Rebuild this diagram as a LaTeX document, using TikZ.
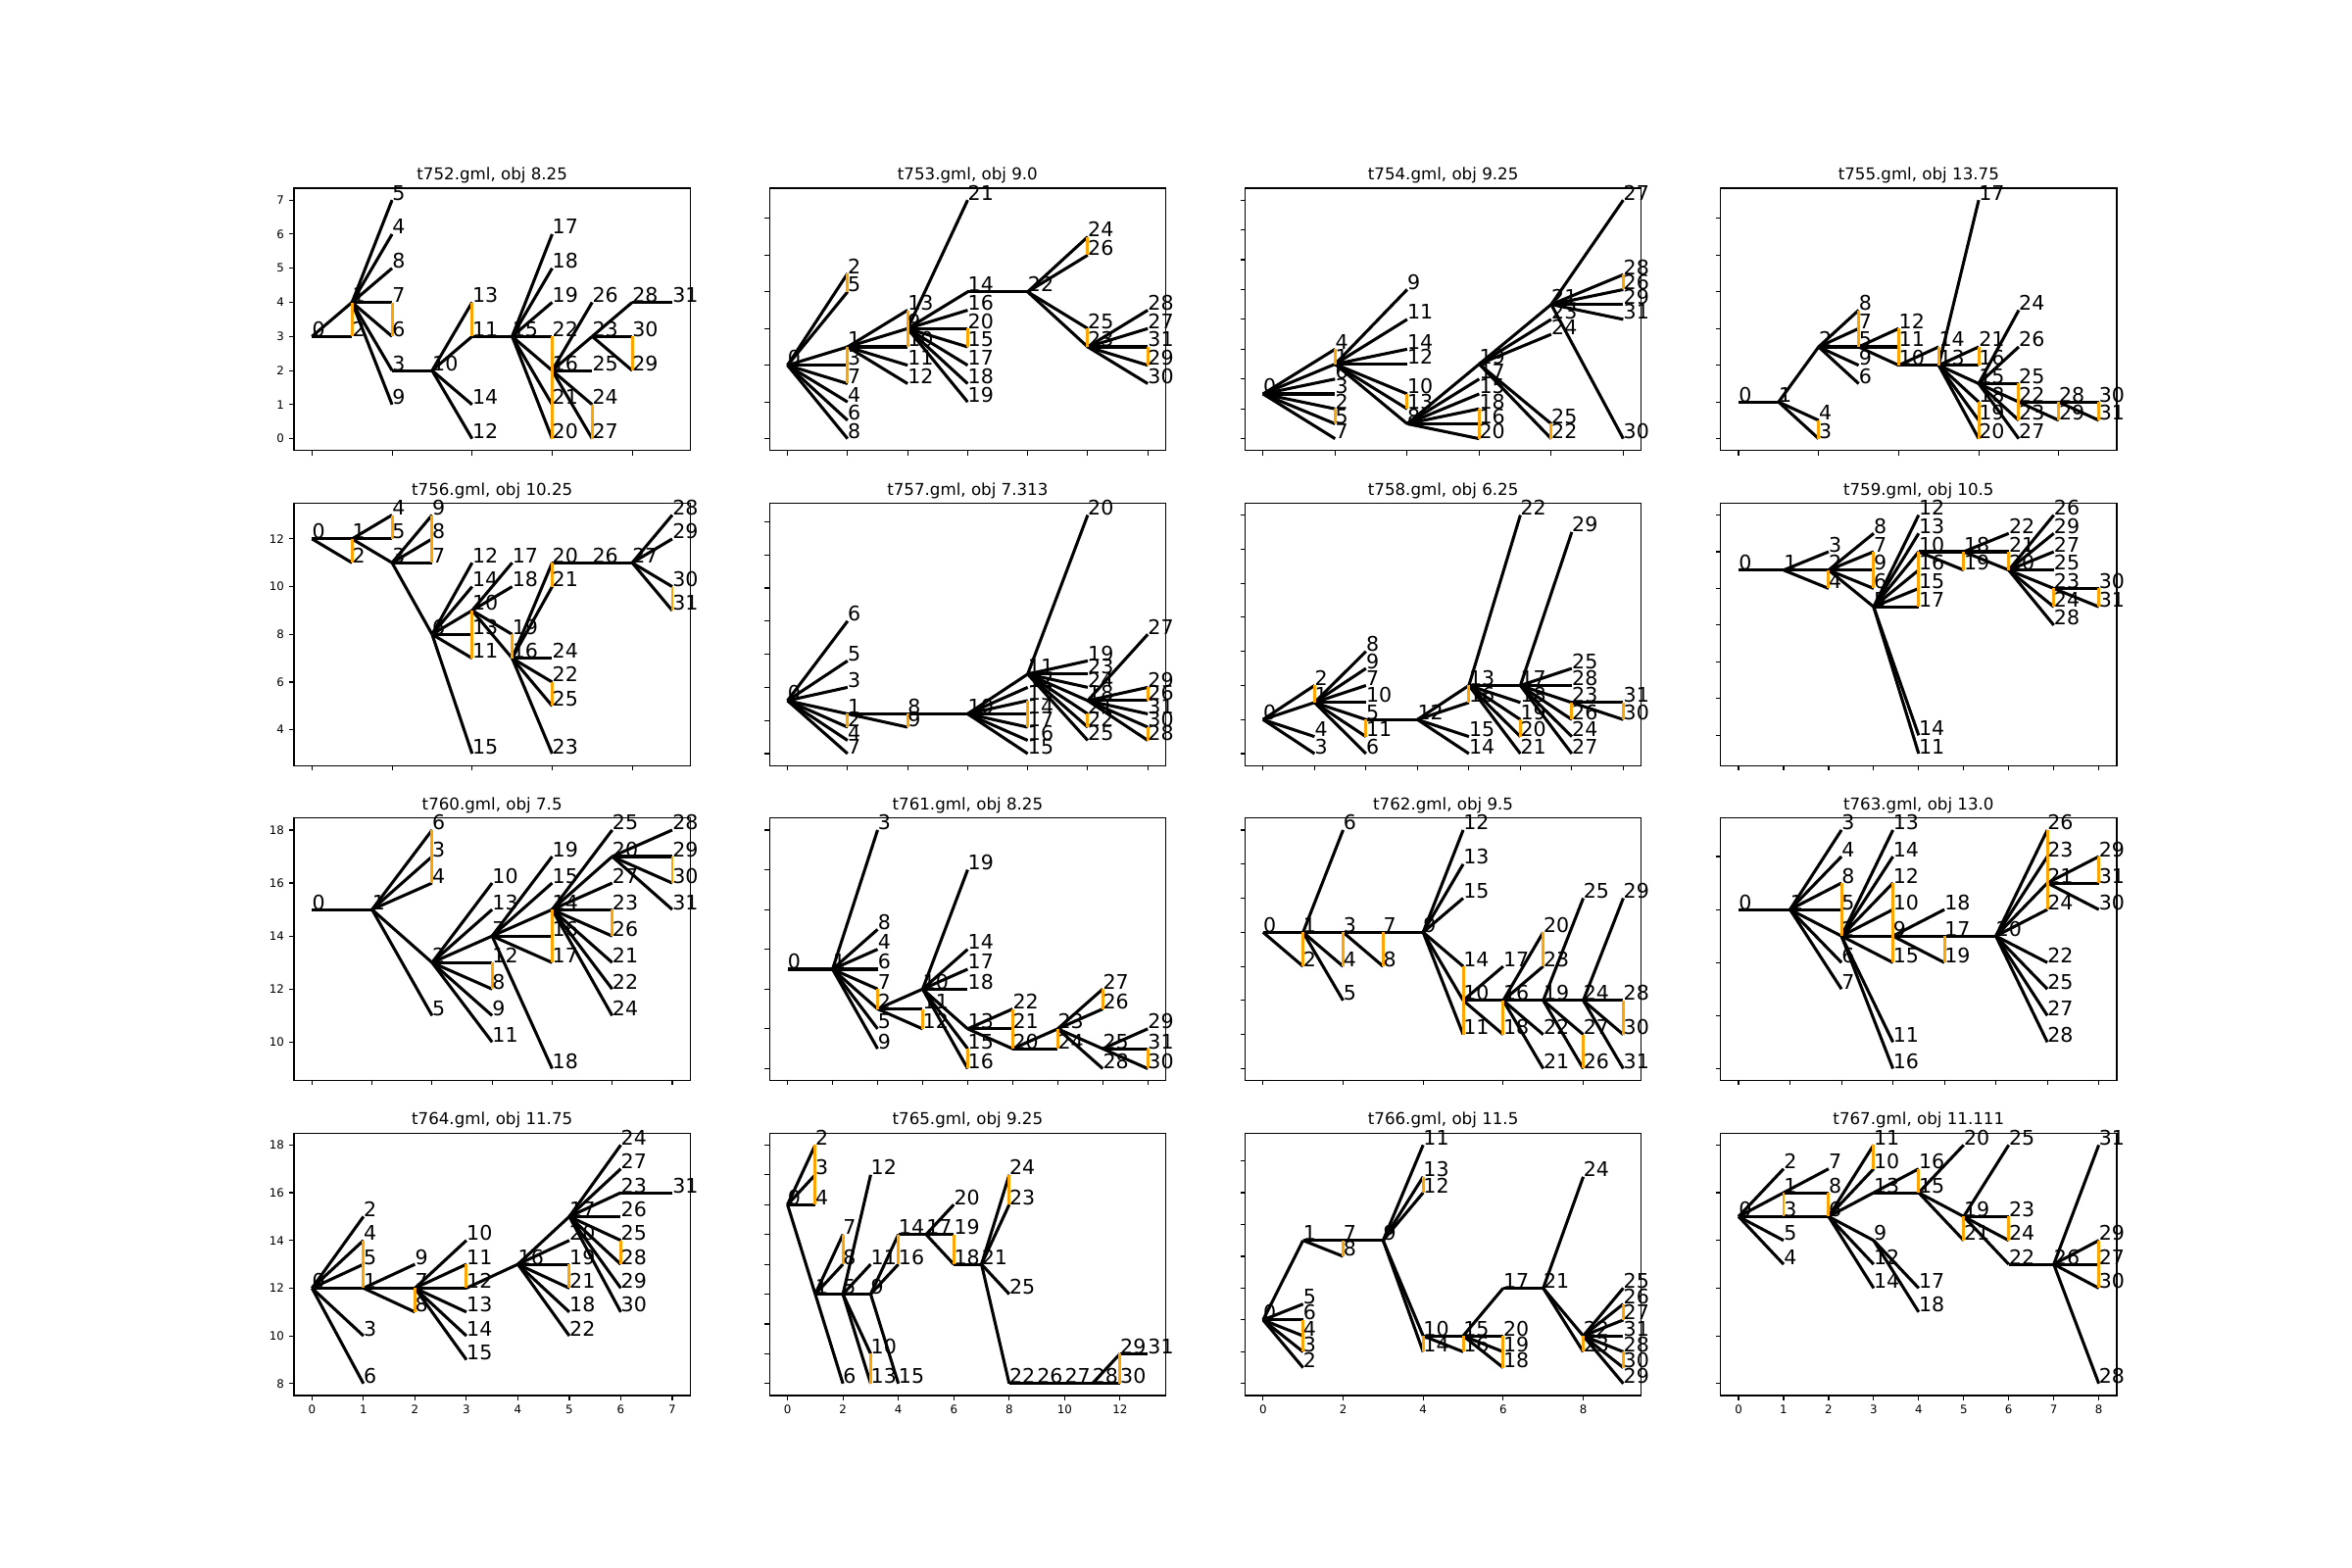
\documentclass[tikz,border=0pt]{standalone}
\usepackage{fontspec}
\setmainfont{DejaVu Sans}
\usetikzlibrary{positioning}
\definecolor{mplorange}{HTML}{FFA500}
\tikzset{
  tree edge/.style={line width=2.2pt,black},
  sib bar/.style={line width=2.1pt,mplorange},
  node label/.style={anchor=base west,inner sep=0pt,font=\fontsize{14.8}{17}\selectfont},
  panel frame/.style={line width=0.8pt,black},
  panel title/.style={anchor=base,inner sep=0pt,font=\fontsize{12}{14}\selectfont},
  tick mark/.style={line width=0.8pt,black},
  tick label/.style={inner sep=0pt,font=\fontsize{8.5}{10}\selectfont}
}
% panel geometry: col, row, x0, x1, y0, y1 (data range, 5% margins)
\newcommand{\setpanel}[6]{%
  \pgfmathsetmacro{\pL}{300+#1*485.217}%
  \pgfmathsetmacro{\pB}{1140.174-#2*321.391}%
  \pgfmathsetmacro{\psx}{404.348/(1.1*(#4-(#3)))}%
  \pgfmathsetmacro{\psy}{267.826/(1.1*(#6-(#5)))}%
  \pgfmathsetmacro{\pox}{\pL+18.379-(#3)*\psx}%
  \pgfmathsetmacro{\poy}{\pB+12.174-(#5)*\psy}%
}
\newcommand{\panelbox}[1]{%
  \draw[panel frame] (\pL,\pB) rectangle ++(404.348,267.826);
  \node[panel title] (title) at ({\pL+202.174},{\pB+276.16}) {#1};
}
\newcommand{\panelxticks}[2]{%
  \foreach \t in {#1} {%
    \draw[tick mark] ({\pox+\t*\psx},\pB) -- ++(0,-4.861);
    \ifnum#2=1 \node[tick label,anchor=north] at ({\pox+\t*\psx},{\pB-9.722}) {\t};\fi
  }%
}
\newcommand{\panelyticks}[2]{%
  \foreach \t in {#1} {%
    \draw[tick mark] (\pL,{\poy+\t*\psy}) -- ++(-4.861,0);
    \ifnum#2=1 \node[tick label,anchor=east] at ({\pL-9.722},{\poy+\t*\psy}) {\t};\fi
  }%
}
% prefix, nodes n/x/y, edges a/b, orange bars a/b
\newcommand{\drawtree}[4]{%
  \foreach \n/\xx/\yy in {#2}
    \coordinate (#1-\n) at ({\pox+\xx*\psx},{\poy+\yy*\psy});
  \foreach \a/\b in {#3} \draw[tree edge] (#1-\a) -- (#1-\b);
  \foreach \a/\b in {#4} \draw[sib bar] (#1-\a) -- (#1-\b);
  \foreach \n/\xx/\yy in {#2} \node[node label] (#1-l\n) at (#1-\n) {\n};
}

\begin{document}
\begin{tikzpicture}[x=0.72pt,y=0.72pt]
  \useasboundingbox (0,0) rectangle (2400,1600);

  % t752
  \setpanel{0}{0}{0}{9}{0}{7}
  \panelbox{t752.gml, obj 8.25}
  \panelxticks{0,2,4,6,8}{0}
  \panelyticks{0,1,2,3,4,5,6,7}{1}
  \drawtree{a}{0/0/3,1/1/4,2/1/3,3/2/2,4/2/6,5/2/7,6/2/3,7/2/4,8/2/5,9/2/1,
    10/3/2,11/4/3,12/4/0,13/4/4,14/4/1,15/5/3,16/6/2,17/6/6,18/6/5,19/6/4,
    20/6/0,21/6/1,22/6/3,23/7/3,24/7/1,25/7/2,26/7/4,27/7/0,28/8/4,29/8/2,
    30/8/3,31/9/4}
    {0/1,0/2,1/5,1/4,1/8,1/7,1/6,1/3,1/9,3/10,10/13,10/11,10/14,10/12,11/15,
    15/17,15/18,15/19,15/22,15/16,15/21,15/20,16/26,16/23,16/25,16/24,16/27,
    23/28,23/30,23/29,28/31}
    {1/2,7/6,13/11,22/16,16/21,21/20,24/27,30/29}

  % t753
  \setpanel{1}{0}{0}{6}{0}{6.5}
  \panelbox{t753.gml, obj 9.0}
  \panelxticks{0,1,2,3,4,5,6}{0}
  \panelyticks{0,1,2,3,4,5,6}{0}
  \drawtree{b}{0/0/2,1/1/2.5,2/1/4.5,3/1/2,4/1/1,5/1/4,6/1/0.5,7/1/1.5,8/1/0,
    9/2/3,10/2/2.5,11/2/2,12/2/1.5,13/2/3.5,14/3/4,15/3/2.5,16/3/3.5,17/3/2,
    18/3/1.5,19/3/1,20/3/3,21/3/6.5,22/4/4,23/5/2.5,24/5/5.5,25/5/3,26/5/5,
    27/6/3,28/6/3.5,29/6/2,30/6/1.5,31/6/2.5}
    {0/2,0/5,0/1,0/3,0/7,0/4,0/6,0/8,1/13,1/9,1/10,1/11,1/12,9/21,9/14,9/16,
    9/20,9/15,9/17,9/18,9/19,14/22,22/24,22/26,22/25,22/23,23/28,23/27,23/31,
    23/29,23/30}
    {2/5,1/3,3/7,13/9,9/10,20/15,24/26,25/23,31/29}

  % t754
  \setpanel{2}{0}{0}{5}{0}{8}
  \panelbox{t754.gml, obj 9.25}
  \panelxticks{0,1,2,3,4,5}{0}
  \panelyticks{0,1,2,3,4,5,6,7,8}{0}
  \drawtree{c}{0/0/1.5,1/1/2.5,2/1/1,3/1/1.5,4/1/3,5/1/0.5,6/1/2,7/1/0,
    8/2/0.5,9/2/5,10/2/1.5,11/2/4,12/2/2.5,13/2/1,14/2/3,15/3/1.5,16/3/0.5,
    17/3/2,18/3/1,19/3/2.5,20/3/0,21/4/4.5,22/4/0,23/4/4,24/4/3.5,25/4/0.5,
    26/5/5,27/5/8,28/5/5.5,29/5/4.5,30/5/0,31/5/4}
    {0/4,0/1,0/6,0/3,0/2,0/5,0/7,1/9,1/11,1/14,1/12,1/10,1/13,1/8,8/19,8/17,
    8/15,8/18,8/16,8/20,19/21,19/23,19/24,19/25,19/22,21/27,21/28,21/26,
    21/29,21/31,21/30}
    {4/1,2/5,10/13,18/16,16/20,25/22,28/26}

  % t755
  \setpanel{3}{0}{0}{9}{0}{6.5}
  \panelbox{t755.gml, obj 13.75}
  \panelxticks{0,2,4,6,8}{0}
  \panelyticks{0,1,2,3,4,5,6}{0}
  \drawtree{d}{0/0/1,1/1/1,2/2/2.5,3/2/0,4/2/0.5,5/3/2.5,6/3/1.5,7/3/3,
    8/3/3.5,9/3/2,10/4/2,11/4/2.5,12/4/3,13/5/2,14/5/2.5,15/6/1.5,16/6/2,
    17/6/6.5,18/6/1,19/6/0.5,20/6/0,21/6/2.5,22/7/1,23/7/0.5,24/7/3.5,
    25/7/1.5,26/7/2.5,27/7/0,28/8/1,29/8/0.5,30/9/1,31/9/0.5}
    {0/1,1/2,1/4,1/3,2/8,2/7,2/5,2/9,2/6,5/12,5/11,5/10,10/14,10/13,13/17,
    13/21,13/16,13/15,13/18,13/19,13/20,15/24,15/26,15/25,15/22,15/23,15/27,
    22/28,22/29,28/30,28/31}
    {4/3,8/7,7/5,12/11,11/10,14/13,21/16,18/19,19/20,25/22,22/23,28/29,30/31}

  % t756
  \setpanel{0}{1}{0}{9}{3}{13}
  \panelbox{t756.gml, obj 10.25}
  \panelxticks{0,2,4,6,8}{0}
  \panelyticks{4,6,8,10,12}{1}
  \drawtree{e}{0/0/12,1/1/12,2/1/11,3/2/11,4/2/13,5/2/12,6/3/8,7/3/11,8/3/12,
    9/3/13,10/4/9,11/4/7,12/4/11,13/4/8,14/4/10,15/4/3,16/5/7,17/5/11,
    18/5/10,19/5/8,20/6/11,21/6/10,22/6/6,23/6/3,24/6/7,25/6/5,26/7/11,
    27/8/11,28/9/13,29/9/12,30/9/10,31/9/9}
    {0/1,0/2,1/4,1/5,1/3,3/9,3/8,3/7,3/6,6/12,6/14,6/10,6/13,6/11,6/15,10/17,
    10/18,10/19,10/16,16/20,16/21,16/24,16/22,16/25,16/23,20/26,26/27,27/28,
    27/29,27/30,27/31}
    {1/2,4/5,9/8,8/7,10/13,13/11,19/16,20/21,22/25,30/31}

  % t757
  \setpanel{1}{1}{0}{6}{0}{7.2}
  \panelbox{t757.gml, obj 7.313}
  \panelxticks{0,1,2,3,4,5,6}{0}
  \panelyticks{0,1,2,3,4,5,6,7}{0}
  \drawtree{f}{0/0/1.6,1/1/1.2,2/1/0.8,3/1/2.0,4/1/0.4,5/1/2.8,6/1/4.0,7/1/0,
    8/2/1.2,9/2/0.8,10/3/1.2,11/4/2.4,12/4/2.0,13/4/1.6,14/4/1.2,15/4/0,
    16/4/0.4,17/4/0.8,18/5/1.6,19/5/2.8,20/5/7.2,21/5/1.2,22/5/0.8,23/5/2.4,
    24/5/2.0,25/5/0.4,26/6/1.6,27/6/3.6,28/6/0.4,29/6/2.0,30/6/0.8,31/6/1.2}
    {0/6,0/5,0/3,0/1,0/2,0/4,0/7,1/8,1/9,8/10,10/11,10/12,10/13,10/14,10/17,
    10/16,10/15,11/20,11/19,11/23,11/24,11/18,11/21,11/22,11/25,18/27,18/29,
    18/26,18/31,18/30,18/28}
    {1/2,8/9,13/14,14/17,21/22,29/26,30/28}

  % t758
  \setpanel{2}{1}{0}{7}{0}{7}
  \panelbox{t758.gml, obj 6.25}
  \panelxticks{0,1,2,3,4,5,6,7}{0}
  \panelyticks{0,1,2,3,4,5,6,7}{0}
  \drawtree{g}{0/0/1,1/1/1.5,2/1/2,3/1/0,4/1/0.5,5/2/1,6/2/0,7/2/2,8/2/3,
    9/2/2.5,10/2/1.5,11/2/0.5,12/3/1,13/4/2,14/4/0,15/4/0.5,16/4/1.5,17/5/2,
    18/5/1.5,19/5/1,20/5/0.5,21/5/0,22/5/7,23/6/1.5,24/6/0.5,25/6/2.5,26/6/1,
    27/6/0,28/6/2,29/6/6.5,30/7/1,31/7/1.5}
    {0/2,0/1,0/4,0/3,1/8,1/9,1/7,1/10,1/5,1/11,1/6,5/12,12/13,12/16,12/15,
    12/14,13/22,13/17,13/18,13/19,13/20,13/21,17/29,17/25,17/28,17/23,17/26,
    17/24,17/27,23/31,23/30}
    {2/1,5/11,13/16,19/20,23/26,31/30}

  % t759
  \setpanel{3}{1}{0}{8}{0}{6.5}
  \panelbox{t759.gml, obj 10.5}
  \panelxticks{0,1,2,3,4,5,6,7,8}{0}
  \panelyticks{0.5,1.5,2.5,3.5,4.5,5.5,6.5}{0}
  \drawtree{h}{0/0/5,1/1/5,2/2/5,3/2/5.5,4/2/4.5,5/3/4,6/3/4.5,7/3/5.5,8/3/6,
    9/3/5,10/4/5.5,11/4/0,12/4/6.5,13/4/6,14/4/0.5,15/4/4.5,16/4/5,17/4/4,
    18/5/5.5,19/5/5,20/6/5,21/6/5.5,22/6/6,23/7/4.5,24/7/4,25/7/5,26/7/6.5,
    27/7/5.5,28/7/3.5,29/7/6,30/8/4.5,31/8/4}
    {0/1,1/3,1/2,1/4,2/8,2/7,2/9,2/6,2/5,5/12,5/13,5/10,5/16,5/15,5/17,5/14,
    5/11,10/18,10/19,18/22,18/21,18/20,20/26,20/29,20/27,20/25,20/23,20/24,
    20/28,23/30,23/31}
    {2/4,7/9,9/6,10/16,16/15,15/17,18/19,21/20,23/24,30/31}

  % t760
  \setpanel{0}{2}{0}{6}{9}{18}
  \panelbox{t760.gml, obj 7.5}
  \panelxticks{0,1,2,3,4,5,6}{0}
  \panelyticks{10,12,14,16,18}{1}
  \drawtree{i}{0/0/15,1/1/15,2/2/13,3/2/17,4/2/16,5/2/11,6/2/18,7/3/14,8/3/12,
    9/3/11,10/3/16,11/3/10,12/3/13,13/3/15,14/4/15,15/4/16,16/4/14,17/4/13,
    18/4/9,19/4/17,20/5/17,21/5/13,22/5/12,23/5/15,24/5/11,25/5/18,26/5/14,
    27/5/16,28/6/18,29/6/17,30/6/16,31/6/15}
    {0/1,1/6,1/3,1/4,1/2,1/5,2/10,2/13,2/7,2/12,2/8,2/9,2/11,7/19,7/15,7/14,
    7/16,7/17,7/18,14/25,14/20,14/27,14/23,14/26,14/21,14/22,14/24,20/28,
    20/29,20/30,20/31}
    {6/3,3/4,12/8,14/16,16/17,23/26,29/30}

  % t761
  \setpanel{1}{2}{0}{8}{0}{6}
  \panelbox{t761.gml, obj 8.25}
  \panelxticks{0,1,2,3,4,5,6,7,8}{0}
  \panelyticks{0,1,2,3,4,5,6}{0}
  \drawtree{j}{0/0/2.5,1/1/2.5,2/2/1.5,3/2/6,4/2/3,5/2/1,6/2/2.5,7/2/2,
    8/2/3.5,9/2/0.5,10/3/2,11/3/1.5,12/3/1,13/4/1,14/4/3,15/4/0.5,16/4/0,
    17/4/2.5,18/4/2,19/4/5,20/5/0.5,21/5/1,22/5/1.5,23/6/1,24/6/0.5,25/7/0.5,
    26/7/1.5,27/7/2,28/7/0,29/8/1,30/8/0,31/8/0.5}
    {0/1,1/3,1/8,1/4,1/6,1/7,1/2,1/5,1/9,2/10,2/11,2/12,10/19,10/14,10/17,
    10/18,10/13,10/15,10/16,13/22,13/21,13/20,20/23,20/24,23/27,23/26,23/25,
    23/28,25/29,25/31,25/30}
    {7/2,11/12,15/16,22/21,21/20,23/24,27/26,31/30}

  % t762
  \setpanel{2}{2}{0}{9}{0}{7}
  \panelbox{t762.gml, obj 9.5}
  \panelxticks{0,2,4,6,8}{0}
  \panelyticks{0,1,2,3,4,5,6,7}{0}
  \drawtree{k}{0/0/4,1/1/4,2/1/3,3/2/4,4/2/3,5/2/2,6/2/7,7/3/4,8/3/3,9/4/4,
    10/5/2,11/5/1,12/5/7,13/5/6,14/5/3,15/5/5,16/6/2,17/6/3,18/6/1,19/7/2,
    20/7/4,21/7/0,22/7/1,23/7/3,24/8/2,25/8/5,26/8/0,27/8/1,28/9/2,29/9/5,
    30/9/1,31/9/0}
    {0/1,0/2,1/6,1/3,1/4,1/5,3/7,3/8,7/9,9/12,9/13,9/15,9/14,9/10,9/11,10/17,
    10/16,10/18,16/20,16/23,16/19,16/22,16/21,19/25,19/24,19/27,19/26,24/29,
    24/28,24/30,24/31}
    {1/2,3/4,7/8,14/10,10/11,16/18,20/23,27/26,28/30}

  % t763
  \setpanel{3}{2}{0}{7}{0}{9}
  \panelbox{t763.gml, obj 13.0}
  \panelxticks{0,1,2,3,4,5,6,7}{0}
  \panelyticks{0,2,4,6,8}{0}
  \drawtree{l}{0/0/6,1/1/6,2/2/5,3/2/9,4/2/8,5/2/6,6/2/4,7/2/3,8/2/7,9/3/5,
    10/3/6,11/3/1,12/3/7,13/3/9,14/3/8,15/3/4,16/3/0,17/4/5,18/4/6,19/4/4,
    20/5/5,21/6/7,22/6/4,23/6/8,24/6/6,25/6/3,26/6/9,27/6/2,28/6/1,29/7/8,
    30/7/6,31/7/7}
    {0/1,1/3,1/4,1/8,1/5,1/2,1/6,1/7,2/13,2/14,2/12,2/10,2/9,2/15,2/11,2/16,
    9/18,9/17,9/19,17/20,20/26,20/23,20/21,20/24,20/22,20/25,20/27,20/28,
    21/29,21/31,21/30}
    {8/5,5/2,12/10,10/9,9/15,17/19,26/23,23/21,21/24,29/31}

  % t764
  \setpanel{0}{3}{0}{7}{8}{18}
  \panelbox{t764.gml, obj 11.75}
  \panelxticks{0,1,2,3,4,5,6,7}{1}
  \panelyticks{8,10,12,14,16,18}{1}
  \drawtree{m}{0/0/12,1/1/12,2/1/15,3/1/10,4/1/14,5/1/13,6/1/8,7/2/12,8/2/11,
    9/2/13,10/3/14,11/3/13,12/3/12,13/3/11,14/3/10,15/3/9,16/4/13,17/5/15,
    18/5/11,19/5/13,20/5/14,21/5/12,22/5/10,23/6/16,24/6/18,25/6/14,26/6/15,
    27/6/17,28/6/13,29/6/12,30/6/11,31/7/16}
    {0/2,0/4,0/5,0/1,0/3,0/6,1/9,1/7,1/8,7/10,7/11,7/12,7/13,7/14,7/15,12/16,
    16/17,16/20,16/19,16/21,16/18,16/22,17/24,17/27,17/23,17/26,17/25,17/28,
    17/29,17/30,23/31}
    {4/5,5/1,7/8,11/12,19/21,25/28}

  % t765
  \setpanel{1}{3}{0}{13}{0}{8}
  \panelbox{t765.gml, obj 9.25}
  \panelxticks{0,2,4,6,8,10,12}{1}
  \panelyticks{0,1,2,3,4,5,6,7,8}{0}
  \drawtree{n}{0/0/6,1/1/3,2/1/8,3/1/7,4/1/6,5/2/3,6/2/0,7/2/5,8/2/4,9/3/3,
    10/3/1,11/3/4,12/3/7,13/3/0,14/4/5,15/4/0,16/4/4,17/5/5,18/6/4,19/6/5,
    20/6/6,21/7/4,22/8/0,23/8/6,24/8/7,25/8/3,26/9/0,27/10/0,28/11/0,
    29/12/1,30/12/0,31/13/1}
    {0/2,0/3,0/4,0/1,1/7,1/8,1/5,1/6,5/12,5/11,5/9,5/10,5/13,9/14,9/16,9/15,
    14/17,17/20,17/19,17/18,18/21,21/24,21/23,21/25,21/22,22/26,26/27,27/28,
    28/29,28/30,29/31}
    {2/3,3/4,7/8,10/13,14/16,19/18,24/23,29/30}

  % t766
  \setpanel{2}{3}{0}{9}{0}{15}
  \panelbox{t766.gml, obj 11.5}
  \panelxticks{0,2,4,6,8}{1}
  \panelyticks{0,2,4,6,8,10,12,14}{0}
  \drawtree{o}{0/0/4,1/1/9,2/1/1,3/1/2,4/1/3,5/1/5,6/1/4,7/2/9,8/2/8,9/3/9,
    10/4/3,11/4/15,12/4/12,13/4/13,14/4/2,15/5/3,16/5/2,17/6/6,18/6/1,19/6/2,
    20/6/3,21/7/6,22/8/3,23/8/2,24/8/13,25/9/6,26/9/5,27/9/4,28/9/2,29/9/0,
    30/9/1,31/9/3}
    {0/1,0/5,0/6,0/4,0/3,0/2,1/7,1/8,7/9,9/11,9/13,9/12,9/10,9/14,10/15,
    10/16,15/17,15/20,15/19,15/18,17/21,21/24,21/22,21/23,22/25,22/26,22/27,
    22/31,22/28,22/30,22/29}
    {6/4,4/3,7/8,13/12,10/14,15/16,20/19,19/18,22/23,26/27,28/30}

  % t767
  \setpanel{3}{3}{0}{8}{0}{10}
  \panelbox{t767.gml, obj 11.111}
  \panelxticks{0,1,2,3,4,5,6,7,8}{1}
  \panelyticks{0,2,4,6,8,10}{0}
  \drawtree{p}{0/0/7,1/1/8,2/1/9,3/1/7,4/1/5,5/1/6,6/2/7,7/2/9,8/2/8,9/3/6,
    10/3/9,11/3/10,12/3/5,13/3/8,14/3/4,15/4/8,16/4/9,17/4/4,18/4/3,19/5/7,
    20/5/10,21/5/6,22/6/5,23/6/7,24/6/6,25/6/10,26/7/5,27/8/5,28/8/0,29/8/6,
    30/8/4,31/8/10}
    {0/2,0/1,0/3,0/5,0/4,1/7,1/8,3/6,6/11,6/10,6/13,6/9,6/12,6/14,13/16,
    13/15,9/17,9/18,15/20,15/19,15/21,19/25,19/23,19/24,19/22,22/26,26/31,
    26/29,26/27,26/30,26/28}
    {1/3,8/6,11/10,16/15,19/21,23/24,29/27,27/30}
\end{tikzpicture}
\end{document}
